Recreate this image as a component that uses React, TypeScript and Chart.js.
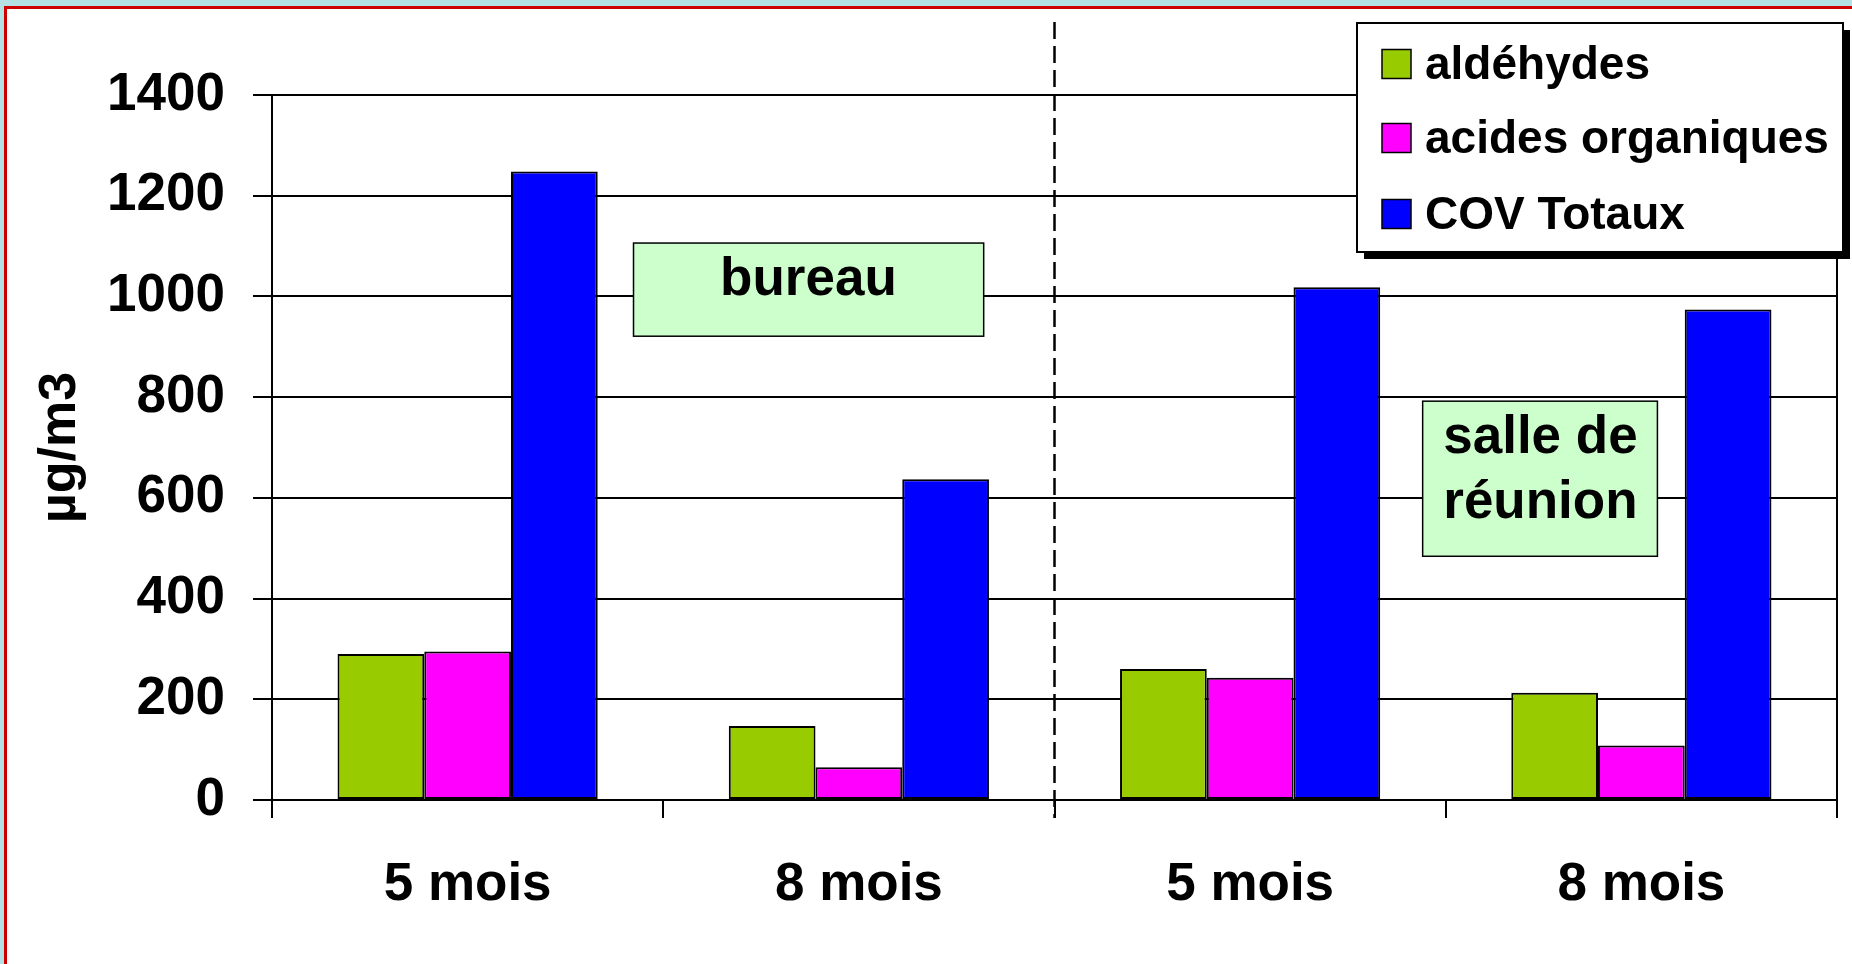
import React, { useEffect, useRef } from 'react';
import { Chart, registerables } from 'chart.js';

Chart.register(...registerables);

// ---------- data ----------
const categories = ['5 mois', '8 mois', '5 mois', '8 mois'];
const seriesNames = ['aldéhydes', 'acides organiques', 'COV Totaux'];
const aldehydes = [290, 147, 260, 213];
const acidesOrganiques = [295, 65, 243, 108];
const covTotaux = [1248, 637, 1018, 974];
const yTickValues = [0, 200, 400, 600, 800, 1000, 1200, 1400];
const yAxisTitle = 'µg/m3';
const zoneNames = [['bureau'], ['salle de', 'réunion']];

// ---------- styles ----------
const seriesColors = ['#99CC00', '#FF00FF', '#0000FF'];
const FONT = '"Liberation Sans", Arial, Helvetica, sans-serif';

// zone label boxes, in scale units (x = category index, y = value)
const zoneBoxes = [
  { x0: 0.424, x1: 1.319, yTop: 1106, yBottom: 921, textX: 0.871, textY: [1031] },
  { x0: 2.441, x1: 3.041, yTop: 792, yBottom: 484, textX: 2.742, textY: [718, 590] },
];

const decorPlugin = {
  id: 'decor',
  afterDraw(chart: any) {
    const ctx = chart.ctx as CanvasRenderingContext2D;
    const xs = chart.scales.x;
    const ys = chart.scales.y;
    const area = chart.chartArea;
    ctx.save();

    // right border of plot area
    ctx.strokeStyle = '#000';
    ctx.lineWidth = 2;
    ctx.beginPath();
    ctx.moveTo(area.right, area.top);
    ctx.lineTo(area.right, area.bottom);
    ctx.stroke();

    // dashed separator between the two rooms
    const sx = xs.getPixelForValue(1.5);
    ctx.setLineDash([17, 7]);
    ctx.lineWidth = 2.5;
    ctx.beginPath();
    ctx.moveTo(sx, ys.getPixelForValue(1545));
    ctx.lineTo(sx, area.bottom + 18);
    ctx.stroke();
    ctx.setLineDash([]);

    // zone labels
    zoneBoxes.forEach((b, i) => {
      const l = xs.getPixelForValue(b.x0);
      const r = xs.getPixelForValue(b.x1);
      const t = ys.getPixelForValue(b.yTop);
      const bt = ys.getPixelForValue(b.yBottom);
      ctx.fillStyle = '#CCFFCC';
      ctx.fillRect(l, t, r - l, bt - t);
      ctx.strokeStyle = '#000';
      ctx.lineWidth = 1.5;
      ctx.strokeRect(l, t, r - l, bt - t);
      ctx.fillStyle = '#000';
      ctx.font = `bold 53px ${FONT}`;
      ctx.textAlign = 'center';
      ctx.textBaseline = 'middle';
      zoneNames[i].forEach((line, j) => {
        ctx.fillText(line, xs.getPixelForValue(b.textX), ys.getPixelForValue(b.textY[j]));
      });
    });

    // legend
    const lx = 1357, ly = 23, lw = 486, lh = 229;
    ctx.fillStyle = '#000';
    ctx.fillRect(lx + 7, ly + 7, lw, lh);
    ctx.fillStyle = '#fff';
    ctx.fillRect(lx, ly, lw, lh);
    ctx.strokeStyle = '#000';
    ctx.lineWidth = 2;
    ctx.strokeRect(lx, ly, lw, lh);
    const rows = [64, 138, 214];
    chart.data.datasets.forEach((ds: any, i: number) => {
      const cy = rows[i];
      ctx.fillStyle = ds.backgroundColor;
      ctx.fillRect(1382, cy - 14.5, 29, 29);
      ctx.lineWidth = 1.5;
      ctx.strokeStyle = '#000';
      ctx.strokeRect(1382, cy - 14.5, 29, 29);
      ctx.fillStyle = '#000';
      ctx.font = `bold 46px ${FONT}`;
      ctx.textAlign = 'left';
      ctx.textBaseline = 'middle';
      ctx.fillText(ds.label, 1425, cy + 2.5);
    });
    ctx.restore();
  },
};

export default function App() {
  const ref = useRef<HTMLCanvasElement | null>(null);

  useEffect(() => {
    if (!ref.current) return;
    const seriesData = [aldehydes, acidesOrganiques, covTotaux];
    const chart = new Chart(ref.current, {
      type: 'bar',
      data: {
        labels: categories,
        datasets: seriesNames.map((name, i) => ({
          label: name,
          data: seriesData[i],
          backgroundColor: seriesColors[i],
          borderColor: '#000',
          borderWidth: 2,
          borderSkipped: false,
          categoryPercentage: 0.665,
          barPercentage: 1,
        })),
      },
      options: {
        animation: false,
        responsive: false,
        devicePixelRatio: 1,
        layout: { padding: { top: 95, right: 15, bottom: 0, left: 0 } },
        plugins: {
          legend: { display: false },
          tooltip: { enabled: false },
          title: { display: false },
        },
        scales: {
          x: {
            offset: true,
            grid: {
              offset: true,
              drawOnChartArea: false,
              drawTicks: true,
              tickLength: 18,
              color: '#000',
              lineWidth: 2,
            },
            border: { display: true, color: '#000', width: 2 },
            ticks: {
              color: '#000',
              padding: 36,
              font: { family: FONT, size: 53, weight: 'bold' },
              maxRotation: 0,
            },
            afterFit(scale: any) {
              scale.height = 164;
            },
          },
          y: {
            min: 0,
            max: 1400,
            afterBuildTicks(scale: any) {
              scale.ticks = yTickValues.map((v) => ({ value: v }));
            },
            grid: {
              color: '#000',
              lineWidth: 2,
              tickLength: 19,
              drawTicks: true,
            },
            border: { display: true, color: '#000', width: 2 },
            ticks: {
              color: '#000',
              padding: 28,
              font: { family: FONT, size: 53, weight: 'bold' },
              callback: (v: any) => String(v),
            },
            title: {
              display: true,
              text: yAxisTitle,
              color: '#000',
              font: { family: FONT, size: 52, weight: 'bold' },
              padding: { top: 29.5, bottom: 0 },
            },
            afterFit(scale: any) {
              scale.width = 272;
            },
          },
        },
      },
      plugins: [decorPlugin],
    } as any);
    return () => chart.destroy();
  }, []);

  return (
    <div style={{ position: 'fixed', left: 0, top: 0, width: 1852, height: 964, background: '#b4e2e4', overflow: 'hidden' }}>
      <div
        style={{
          position: 'absolute',
          left: 4,
          top: 6,
          right: 0,
          bottom: 0,
          background: '#fff',
          borderTop: '3px solid #cc0000',
          borderLeft: '3px solid #cc0000',
        }}
      />
      <canvas ref={ref} width={1852} height={964} style={{ position: 'absolute', left: 0, top: 0, width: 1852, height: 964 }} />
    </div>
  );
}
